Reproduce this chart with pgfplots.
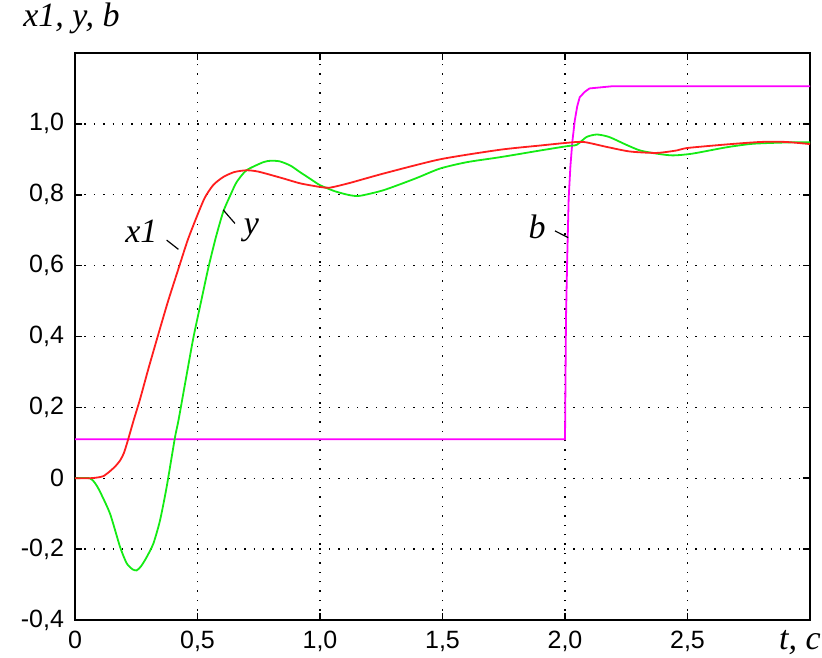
\documentclass[border=0pt]{standalone}
\usepackage{fontspec}
\setmainfont{Liberation Sans}
\newfontfamily\lbl{Liberation Serif}
\usepackage{pgfplots}
\pgfplotsset{compat=1.18}
\usetikzlibrary{calc}

\definecolor{cx}{RGB}{255,30,30}
\definecolor{cy}{RGB}{20,235,20}
\definecolor{cb}{RGB}{255,0,255}

\pgfplotstableread{
t v
0 0
0.06 0
0.09 0.002
0.116 0.006
0.143 0.02
0.165 0.034
0.184 0.05
0.2 0.072
0.215 0.105
0.24 0.165
0.265 0.222
0.30 0.31
0.34 0.406
0.38 0.50
0.424 0.595
0.46 0.672
0.497 0.738
0.53 0.792
0.565 0.828
0.605 0.850
0.65 0.864
0.70 0.869
0.75 0.865
0.85 0.846
0.92 0.832
1.0 0.822
1.04 0.820
1.12 0.833
1.26 0.86
1.49 0.90
1.735 0.927
1.9 0.939
2.0 0.946
2.075 0.949
2.17 0.935
2.265 0.922
2.374 0.918
2.456 0.925
2.5 0.932
2.66 0.942
2.8 0.949
2.9 0.949
3.0 0.943
}\xone

\pgfplotstableread{
t v
0 0
0.06 0
0.08 -0.012
0.10 -0.035
0.143 -0.10
0.184 -0.194
0.211 -0.24
0.235 -0.257
0.252 -0.26
0.27 -0.248
0.293 -0.222
0.32 -0.184
0.347 -0.119
0.374 -0.025
0.408 0.115
0.422 0.162
0.45 0.27
0.483 0.396
0.515 0.50
0.544 0.593
0.575 0.68
0.605 0.752
0.635 0.80
0.66 0.836
0.70 0.869
0.769 0.892
0.80 0.896
0.837 0.894
0.88 0.882
0.918 0.864
0.96 0.845
1.0 0.827
1.06 0.81
1.12 0.799
1.163 0.797
1.26 0.813
1.39 0.846
1.49 0.874
1.6 0.892
1.735 0.906
1.9 0.925
2.007 0.937
2.048 0.941
2.088 0.963
2.13 0.970
2.18 0.963
2.25 0.941
2.306 0.925
2.374 0.916
2.44 0.911
2.52 0.916
2.66 0.934
2.77 0.944
2.93 0.948
3.0 0.948
}\yout

\pgfplotstableread{
t v
0 0.11
2.0 0.11
2.004 0.45
2.009 0.62
2.015 0.79
2.022 0.88
2.03 0.95
2.04 1.01
2.05 1.05
2.06 1.075
2.08 1.09
2.10 1.10
2.19 1.106
3.0 1.106
}\bsig

\begin{document}
\begin{tikzpicture}
\begin{axis}[
    name=ax,
    scale only axis,
    width=367.5pt, height=283.5pt,
    xmin=0, xmax=3,
    ymin=-0.4, ymax=1.2,
    clip=false,
    axis line style={line width=1pt},
    xtick={0,0.5,1,1.5,2,2.5},
    xticklabels={0,{0,5},{1,0},{1,5},{2,0},{2,5}},
    ytick={-0.4,-0.2,0,0.2,0.4,0.6,0.8,1.0},
    yticklabels={{-0,4},{-0,2},0,{0,2},{0,4},{0,6},{0,8},{1,0}},
    tick align=inside,
    tick pos=both,
    major tick length=3.5pt,
    tick style={line width=0.8pt, black},
    ticklabel style={font=\fontsize{12.5}{14}\selectfont},
    xticklabel style={yshift=-2pt},
    yticklabel style={xshift=-2pt},
    grid=major,
    major grid style={black, line width=0.7pt, dash pattern=on 0.7pt off 4pt},
]
\addplot[cb, line width=0.9pt] table[x=t,y=v] {\bsig};
\addplot[cy, line width=0.9pt, smooth, tension=0.4] table[x=t,y=v] {\yout};
\addplot[cx, line width=0.9pt, smooth, tension=0.4] table[x=t,y=v] {\xone};

\node[font=\lbl\itshape\fontsize{17}{20}\selectfont] at (axis cs:0.271,0.696) {x1};
\draw[line width=0.6pt] (axis cs:0.374,0.672) -- (axis cs:0.422,0.646);
\node[font=\lbl\itshape\fontsize{17}{20}\selectfont] at (axis cs:0.72,0.70) {y};
\draw[line width=0.6pt] (axis cs:0.605,0.757) -- (axis cs:0.653,0.719);
\node[font=\lbl\itshape\fontsize{17}{20}\selectfont] at (axis cs:1.886,0.71) {b};
\draw[line width=0.6pt] (axis cs:1.959,0.698) -- (axis cs:2.013,0.679);
\end{axis}
\node[font=\lbl\itshape\fontsize{17}{20}\selectfont, anchor=west, inner sep=0pt]
    at ($(ax.north west)+(-26pt,17.5pt)$) {x1, y, b};
\node[font=\lbl\itshape\fontsize{17}{20}\selectfont, anchor=north, inner sep=0pt]
    at ($(ax.south east)+(-5pt,-5pt)$) {t, с};
\pgfresetboundingbox
\path ($(ax.south west)+(-37.5pt,-18.5pt)$) rectangle ($(ax.north east)+(6pt,26.5pt)$);
\end{tikzpicture}
\end{document}
